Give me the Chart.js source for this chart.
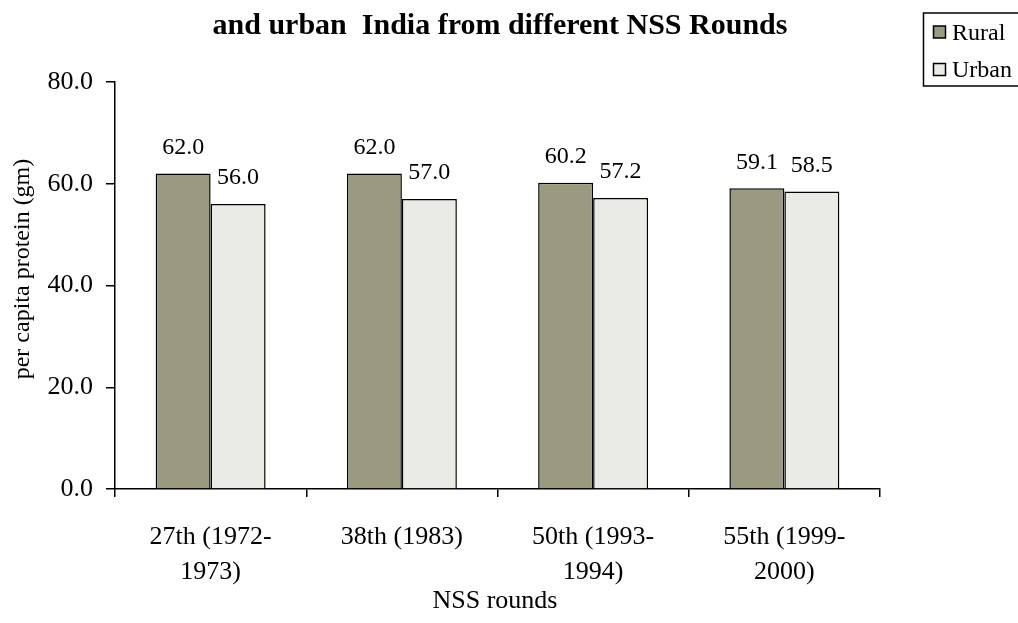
<!DOCTYPE html>
<html>
<head>
<meta charset="utf-8">
<script src="https://cdn.jsdelivr.net/npm/chart.js@4/dist/chart.umd.min.js"></script>
<style>
html,body{margin:0;padding:0;background:#fff;}
#wrap{position:relative;width:1018px;height:623px;}
</style>
</head>
<body>
<div id="wrap"><canvas id="c" width="1018" height="623"></canvas></div>
<script>
const categories = [["27th (1972-","1973)"],["38th (1983)"],["50th (1993-","1994)"],["55th (1999-","2000)"]];
const rural = [62.0, 62.0, 60.2, 59.1];
const urban = [56.0, 57.0, 57.2, 58.5];
const seriesNames = ["Rural", "Urban"];
const yTicks = [0, 20, 40, 60, 80];
const titleText = "and urban  India from different NSS Rounds";
const yTitle = "per capita protein (gm)";
const xTitle = "NSS rounds";

const FONT = "'Liberation Serif', 'Times New Roman', serif";
const colRural = "#9a9a80";
const colUrban = "#ebebe5";

const overlay = {
  id: "overlay",
  afterDatasetsDraw(chart) {
    const ctx = chart.ctx;
    ctx.save();
    ctx.fillStyle = "#000";
    ctx.font = "24px " + FONT;
    ctx.textAlign = "center";
    ctx.textBaseline = "middle";
    chart.data.datasets.forEach((ds, di) => {
      const meta = chart.getDatasetMeta(di);
      meta.data.forEach((bar, i) => {
        ctx.fillText(ds.data[i].toFixed(1), bar.x, bar.y - 26);
      });
    });
    ctx.restore();
  },
  afterDraw(chart) {
    const ctx = chart.ctx;
    ctx.save();
    ctx.fillStyle = "#000";
    ctx.textAlign = "center";
    ctx.textBaseline = "middle";
    // title
    ctx.font = "bold 30px " + FONT;
    ctx.fillText(titleText, 500, 26);
    // x title
    ctx.font = "26px " + FONT;
    ctx.fillText(xTitle, 495, 601);
    // y title
    ctx.save();
    ctx.translate(23, 269);
    ctx.rotate(-Math.PI / 2);
    ctx.font = "24px " + FONT;
    ctx.fillText(yTitle, 0, 0);
    ctx.restore();
    // legend
    ctx.strokeStyle = "#000";
    ctx.lineWidth = 1.5;
    ctx.strokeRect(923.5, 13, 110, 73);
    const items = [[seriesNames[0], colRural, 32.5], [seriesNames[1], colUrban, 70]];
    ctx.font = "24px " + FONT;
    ctx.textAlign = "left";
    items.forEach(([name, col, y]) => {
      ctx.fillStyle = col;
      ctx.fillRect(933.5, y - 6.5, 12, 12);
      ctx.lineWidth = 1.5;
      ctx.strokeRect(933.5, y - 6.5, 12, 12);
      ctx.fillStyle = "#000";
      ctx.fillText(name, 952, y + 1);
    });
    ctx.restore();
  }
};

new Chart(document.getElementById("c"), {
  type: "bar",
  data: {
    labels: categories,
    datasets: [
      { label: seriesNames[0], data: rural, backgroundColor: colRural, borderColor: "#000", borderWidth: 1.5, barPercentage: 1, categoryPercentage: 0.575 },
      { label: seriesNames[1], data: urban, backgroundColor: colUrban, borderColor: "#000", borderWidth: 1.5, barPercentage: 1, categoryPercentage: 0.575 }
    ]
  },
  options: {
    responsive: false,
    animation: false,
    layout: { padding: { left: 0, right: 138, top: 82, bottom: 0 } },
    plugins: { legend: { display: false }, title: { display: false }, tooltip: { enabled: false } },
    scales: {
      x: {
        grid: { display: true, drawOnChartArea: false, drawTicks: true, tickLength: 8, color: "#000", lineWidth: 1.5, offset: true },
        border: { display: true, color: "#000", width: 1.5 },
        ticks: { color: "#000", font: { family: FONT, size: 26, lineHeight: 1.35 }, padding: 23, maxRotation: 0, autoSkip: false },
        afterFit(s) { s.height = 134; }
      },
      y: {
        min: yTicks[0], max: yTicks[yTicks.length - 1],
        afterBuildTicks(s) { s.ticks = yTicks.map(v => ({ value: v })); },
        grid: { display: true, drawOnChartArea: false, drawTicks: true, tickLength: 9, color: "#000", lineWidth: 1.5 },
        border: { display: true, color: "#000", width: 1.5 },
        ticks: { color: "#000", font: { family: FONT, size: 26 }, padding: 13, callback: v => Number(v).toFixed(1) },
        afterFit(s) { s.width = 115; }
      }
    }
  },
  plugins: [overlay]
});
</script>
</body>
</html>
